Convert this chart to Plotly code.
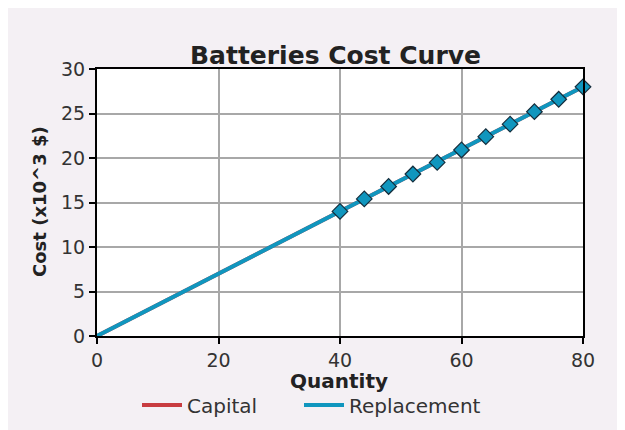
import plotly.graph_objects as go

quantity = [0, 40, 44, 48, 52, 56, 60, 64, 68, 72, 76, 80]
capital_cost = [0, 14.0, 15.4, 16.8, 18.2, 19.5, 20.9, 22.4, 23.8, 25.2, 26.6, 28.0]
replacement_cost = [0, 14.0, 15.4, 16.8, 18.2, 19.5, 20.9, 22.4, 23.8, 25.2, 26.6, 28.0]
x_ticks = [0, 20, 40, 60, 80]
y_ticks = [0, 5, 10, 15, 20, 25, 30]

# The page body has an 8px margin; the figure fills the rest of the 625x430 window.
OFF = 8
W, H = 625 - OFF, 430 - OFF
L, R, T, B = 97 - OFF, 42, 69 - OFF, 94
PW, PH = W - L - R, H - T - B
BG = "rgb(244,240,244)"
TEAL = "rgb(16,150,190)"
RED = "rgb(200,60,64)"
FONT = "DejaVu Sans"


def px_x(p):
    # p is a screen pixel
    return (p - OFF - L) / PW


def px_y(p):
    return 1 - (p - OFF - T) / PH


fig = go.Figure()
fig.add_trace(go.Scatter(x=quantity, y=capital_cost, mode="lines", name="Capital",
                         line=dict(color=RED, width=4), legend="legend"))
fig.add_trace(go.Scatter(x=quantity, y=replacement_cost, mode="lines", name="Replacement",
                         line=dict(color=TEAL, width=4), legend="legend2"))
fig.add_trace(go.Scatter(x=quantity[1:], y=replacement_cost[1:], mode="markers", showlegend=False,
                         cliponaxis=False,
                         marker=dict(symbol="diamond", size=12, color=TEAL,
                                     line=dict(color="rgb(20,45,60)", width=1.2))))

axis_common = dict(showline=True, linecolor="black", linewidth=2, mirror=True,
                   ticks="outside", ticklen=6, tickcolor="black", tickwidth=1.5,
                   showgrid=True, gridcolor="rgb(168,168,168)", gridwidth=2,
                   zeroline=False, tickfont=dict(family=FONT, size=19, color="#333"))

legend_common = dict(orientation="h", xanchor="left", yanchor="middle", itemwidth=40,
                     font=dict(family=FONT, size=20, color="#333"), bgcolor="rgba(0,0,0,0)")

fig.update_layout(
    width=W, height=H,
    margin=dict(l=L, r=R, t=T, b=B, autoexpand=False),
    paper_bgcolor=BG, plot_bgcolor="white",
    xaxis=dict(range=[0, 80], tickvals=x_ticks, **axis_common),
    yaxis=dict(range=[0, 30], tickvals=y_ticks, **axis_common),
    showlegend=True,
    legend=dict(x=px_x(137), y=px_y(405), **legend_common),
    legend2=dict(x=px_x(299), y=px_y(405), **legend_common),
    annotations=[
        dict(text="<b>Batteries Cost Curve</b>", xref="paper", yref="paper", x=px_x(335), y=px_y(55),
             xanchor="center", yanchor="middle", showarrow=False,
             font=dict(family=FONT, size=25, color="#222")),
        dict(text="<b>Quantity</b>", xref="paper", yref="paper", x=px_x(339), y=px_y(381),
             xanchor="center", yanchor="middle", showarrow=False,
             font=dict(family=FONT, size=20, color="#222")),
        dict(text="<b>Cost (x10^3 $)</b>", xref="paper", yref="paper", x=px_x(39), y=px_y(202),
             xanchor="center", yanchor="middle", showarrow=False, textangle=-90,
             font=dict(family=FONT, size=18, color="#222")),
    ],
)

fig.write_html("out.html")
